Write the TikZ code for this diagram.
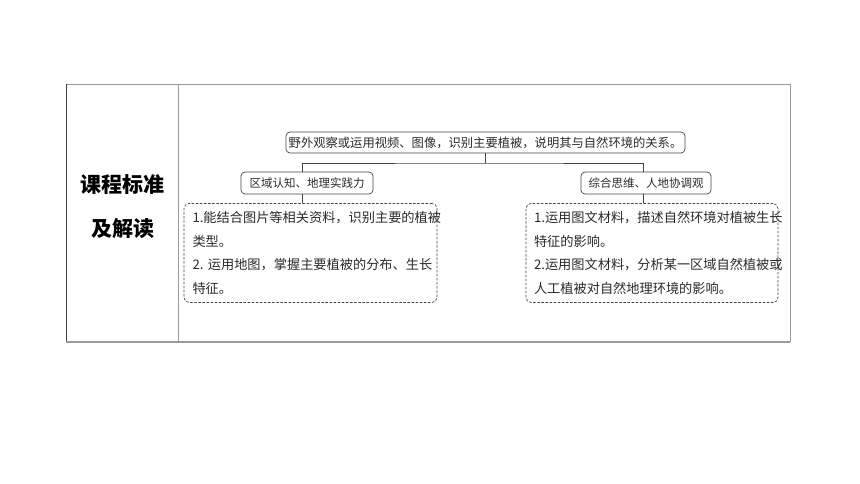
\documentclass[tikz,border=0pt]{standalone}
\usepackage{fontspec}
\setmainfont{Noto Sans CJK SC}
\definecolor{txt}{HTML}{2A2A2A}
\definecolor{frame}{HTML}{9A9A9A}
\definecolor{boxline}{HTML}{444444}
\begin{document}
\begin{tikzpicture}[x=1pt,y=-1pt,
  rbox/.style={draw=boxline,line width=0.7pt,rounded corners=4pt,inner sep=0pt,text=txt},
  dbox/.style={draw=boxline,line width=0.7pt,dashed,dash pattern=on 2.5pt off 1.6pt,rounded corners=5pt,inner sep=0pt,text=txt,
    minimum height=99pt,text width=236pt,align=left,font=\fontsize{13.2pt}{23.5pt}\selectfont},
  link/.style={draw=boxline,line width=0.7pt},
  tline/.style={draw=frame,line width=0.9pt}]
\useasboundingbox (0,0) rectangle (860,484);
% table frame
\draw[tline] (66,84) -- (790,84) -- (790,342);
\draw[draw=black!75,line width=1pt] (66.5,84) -- (66.5,342);
\draw[tline] (178,84) -- (178,342);
\draw[draw=frame,line width=2.2pt] (66,342) -- (790,342);
% title
\node[align=center,text=black,font=\fontsize{21pt}{44pt}\selectfont\bfseries] (title) at (122.5,207) {课程标准\\及解读};
% boxes
\node[rbox,minimum width=399pt,minimum height=21pt,font=\fontsize{12.3pt}{16pt}\selectfont] (top) at (485.5,142.5)
  {野外观察或运用视频、图像，识别主要植被，说明其与自然环境的关系。};
\node[rbox,minimum width=132pt,minimum height=22pt,font=\fontsize{11.5pt}{15pt}\selectfont] (left) at (307,183)
  {区域认知、地理实践力};
\node[rbox,minimum width=130pt,minimum height=22pt,font=\fontsize{11.5pt}{15pt}\selectfont] (right) at (646,183)
  {综合思维、人地协调观};
\node[dbox,minimum width=253pt] (ld) at (310.5,253)
  {1.能结合图片等相关资料，识别主要的植被\\类型。\\2.~运用地图，掌握主要植被的分布、生长\\特征。};
\node[dbox,minimum width=252pt] (rd) at (652,253)
  {1.运用图文材料，描述自然环境对植被生长\\特征的影响。\\2.运用图文材料，分析某一区域自然植被或\\人工植被对自然地理环境的影响。};
% connectors
\coordinate (j) at (top.south |- 0,163);
\draw[link] (top.south) -- (j);
\draw[link] ([xshift=-5pt]left.north) |- (j) -| ([xshift=-3pt]right.north);
\draw[link] ([xshift=-5pt]left.south) -- ([xshift=-5pt]left.south |- ld.north);
\draw[link] ([xshift=-3pt]right.south) -- ([xshift=-3pt]right.south |- rd.north);
\end{tikzpicture}
\end{document}
